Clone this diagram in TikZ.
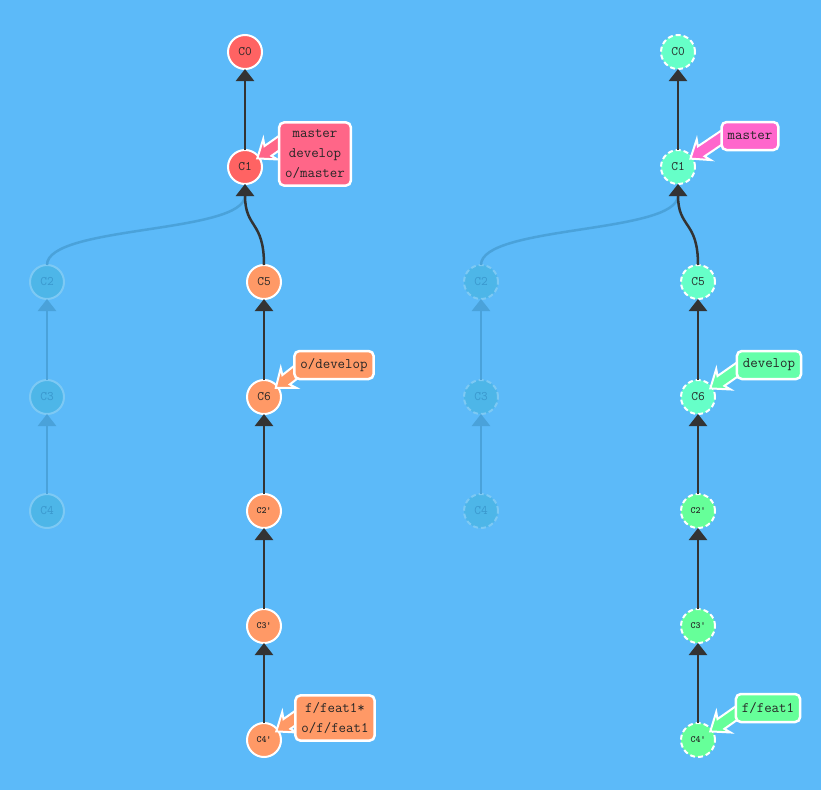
\documentclass[tikz,border=0pt]{standalone}
\usepackage{fontspec}
\usetikzlibrary{arrows.meta}
\definecolor{bgblue}{HTML}{5CBAF9}
\definecolor{cred}{HTML}{FF6363}
\definecolor{corange}{HTML}{FF9966}
\definecolor{caqua}{HTML}{66FFC8}
\definecolor{cgreen}{HTML}{66FF99}
\definecolor{bpink}{HTML}{FF6688}
\definecolor{bmagenta}{HTML}{FF66CC}
\definecolor{bgreen}{HTML}{66FFAA}
\definecolor{fadefill}{HTML}{4DB6E8}
\definecolor{fadeline}{HTML}{7DC9F4}
\definecolor{fadetext}{HTML}{3A98CE}
\definecolor{fadeedge}{HTML}{4AA2DA}
\definecolor{edgegray}{HTML}{333333}
\tikzset{
  commit/.style={circle,draw=white,line width=2pt,minimum size=34pt,inner sep=0pt,outer sep=0pt,
    font=\ttfamily\fontsize{13}{14}\selectfont,text=black!85},
  primed/.style={font=\ttfamily\bfseries\fontsize{9.5}{11}\selectfont},
  ghost/.style={commit,fill=fadefill,draw=fadeline,text=fadetext},
  remote/.style={dash pattern=on 5pt off 3pt},
  edge/.style={draw=edgegray,line width=2.5pt,-{Triangle[width=18pt,length=12pt]}},
  ghostedge/.style={edge,draw=fadeedge,-{Triangle[width=18pt,length=12pt]}},
  refbox/.style={draw=white,line width=2.5pt,rounded corners=5pt,inner xsep=6pt,inner ysep=7pt,
    minimum height=28pt,align=center,font=\ttfamily\fontsize{14.5}{20}\selectfont,text=black!85},
  refptr/.style={draw=white,line width=2pt,line join=miter}
}
\newcommand{\refptr}[4]{%
  \begin{scope}[shift={(#1.center)},rotate=#2]
    \filldraw[refptr,fill=#4] (15,0) -- (31,-12.5) -- (28,-6) -- (#3,-6) -- (#3,6) -- (28,6) -- (31,12.5) -- cycle;
  \end{scope}}

\begin{document}
\begin{tikzpicture}[x=1pt,y=-1pt]
  \fill[bgblue] (0,0) rectangle (821,790);
  \useasboundingbox (0,0) rectangle (821,790);

  \node[commit,fill=cred] (lC0) at (245,52) {C0};
  \node[commit,fill=cred] (lC1) at (245,167) {C1};
  \node[ghost] (lC2) at (47,282) {C2};
  \node[ghost] (lC3) at (47,397) {C3};
  \node[ghost] (lC4) at (47,511) {C4};
  \node[commit,fill=corange] (lC5) at (264,282) {C5};
  \node[commit,fill=corange] (lC6) at (264,397) {C6};
  \node[commit,fill=corange,primed] (lC2p) at (264,511) {C2'};
  \node[commit,fill=corange,primed] (lC3p) at (264,626) {C3'};
  \node[commit,fill=corange,primed] (lC4p) at (264,740) {C4'};

  \node[commit,remote,fill=caqua] (rC0) at (678,52) {C0};
  \node[commit,remote,fill=caqua] (rC1) at (678,167) {C1};
  \node[ghost,remote] (rC2) at (481,282) {C2};
  \node[ghost,remote] (rC3) at (481,397) {C3};
  \node[ghost,remote] (rC4) at (481,511) {C4};
  \node[commit,remote,fill=caqua] (rC5) at (698,282) {C5};
  \node[commit,remote,fill=caqua] (rC6) at (698,397) {C6};
  \node[commit,remote,fill=cgreen,primed] (rC2p) at (698,511) {C2'};
  \node[commit,remote,fill=cgreen,primed] (rC3p) at (698,626) {C3'};
  \node[commit,remote,fill=cgreen,primed] (rC4p) at (698,740) {C4'};

  \draw[ghostedge] (lC2.north) .. controls +(0,-40) and +(0,50) .. (lC1.south);
  \draw[ghostedge] (lC3) -- (lC2);
  \draw[ghostedge] (lC4) -- (lC3);
  \draw[edge] (lC1) -- (lC0);
  \draw[edge] (lC5.north) .. controls +(0,-45) and +(0,45) .. (lC1.south);
  \draw[edge] (lC6) -- (lC5);
  \draw[edge] (lC2p) -- (lC6);
  \draw[edge] (lC3p) -- (lC2p);
  \draw[edge] (lC4p) -- (lC3p);

  \draw[ghostedge] (rC2.north) .. controls +(0,-40) and +(0,50) .. (rC1.south);
  \draw[ghostedge] (rC3) -- (rC2);
  \draw[ghostedge] (rC4) -- (rC3);
  \draw[edge] (rC1) -- (rC0);
  \draw[edge] (rC5.north) .. controls +(0,-45) and +(0,45) .. (rC1.south);
  \draw[edge] (rC6) -- (rC5);
  \draw[edge] (rC2p) -- (rC6);
  \draw[edge] (rC3p) -- (rC2p);
  \draw[edge] (rC4p) -- (rC3p);

  \refptr{lC1}{35}{48}{bpink}
  \refptr{lC6}{38}{52}{corange}
  \refptr{lC4p}{35}{44}{corange}
  \refptr{rC1}{34}{60}{bmagenta}
  \refptr{rC6}{35}{60}{bgreen}
  \refptr{rC4p}{35}{60}{cgreen}

  \node[refbox,fill=bpink] (lmaster) at (315,154) {master\\develop\\o/master};
  \node[refbox,fill=corange] (lodevelop) at (334,365) {o/develop};
  \node[refbox,fill=corange] (lfeat) at (335,718) {f/feat1*\\o/f/feat1};
  \node[refbox,fill=bmagenta] (rmaster) at (750,136) {master};
  \node[refbox,fill=bgreen] (rdevelop) at (769,365) {develop};
  \node[refbox,fill=cgreen] (rfeat) at (768,708) {f/feat1};
\end{tikzpicture}
\end{document}
